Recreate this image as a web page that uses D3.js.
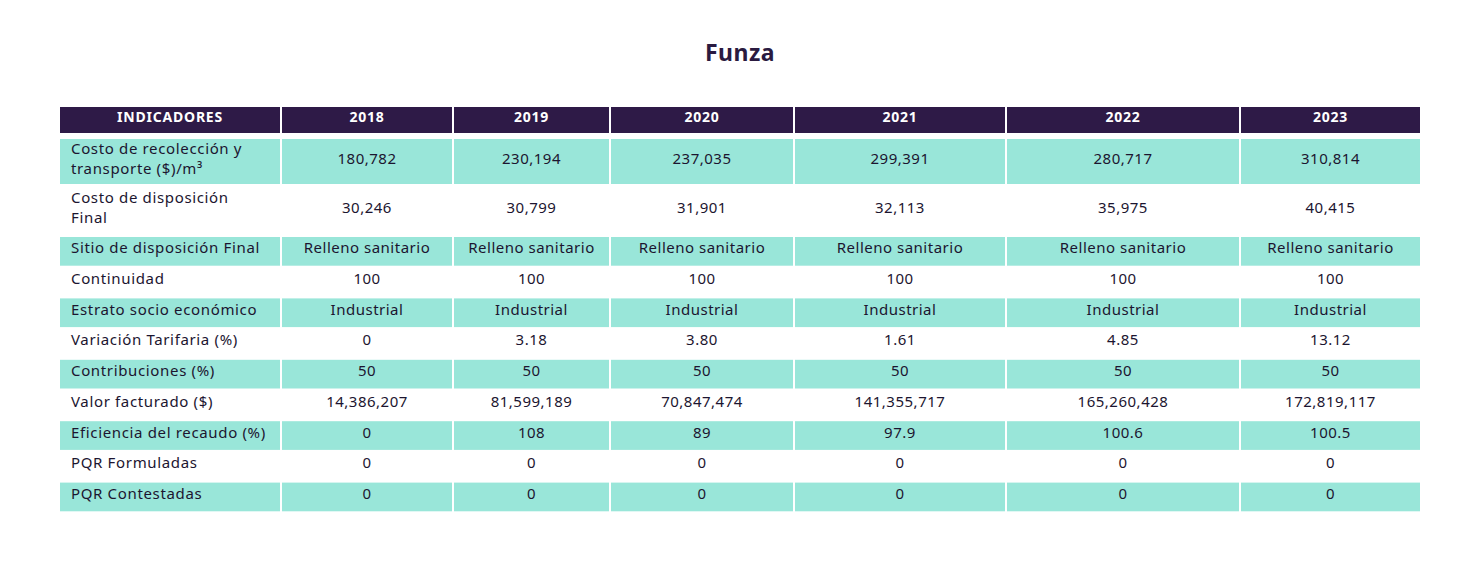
<!DOCTYPE html>
<html>
<head>
<meta charset="utf-8">
<script src="https://cdn.jsdelivr.net/npm/d3@7"></script>
<style>
  body { margin: 0; background: #fff; }
  svg text { font-family: "Noto Sans", sans-serif; }
</style>
</head>
<body>
<svg id="chart"></svg>
<script>
// Table content
const title = "Funza";
const years = ["2018", "2019", "2020", "2021", "2022", "2023"];
const indicators = [
  ["Costo de recolección y", "transporte ($)/m³"],
  ["Costo de disposición", "Final"],
  ["Sitio de disposición Final"],
  ["Continuidad"],
  ["Estrato socio económico"],
  ["Variación Tarifaria (%)"],
  ["Contribuciones (%)"],
  ["Valor facturado ($)"],
  ["Eficiencia del recaudo (%)"],
  ["PQR Formuladas"],
  ["PQR Contestadas"]
];
const costoRecoleccion = ["180,782", "230,194", "237,035", "299,391", "280,717", "310,814"];
const costoDisposicion = ["30,246", "30,799", "31,901", "32,113", "35,975", "40,415"];
const sitio = ["Relleno sanitario", "Relleno sanitario", "Relleno sanitario", "Relleno sanitario", "Relleno sanitario", "Relleno sanitario"];
const continuidad = ["100", "100", "100", "100", "100", "100"];
const estrato = ["Industrial", "Industrial", "Industrial", "Industrial", "Industrial", "Industrial"];
const variacion = ["0", "3.18", "3.80", "1.61", "4.85", "13.12"];
const contribuciones = ["50", "50", "50", "50", "50", "50"];
const valorFacturado = ["14,386,207", "81,599,189", "70,847,474", "141,355,717", "165,260,428", "172,819,117"];
const eficiencia = ["0", "108", "89", "97.9", "100.6", "100.5"];
const pqrFormuladas = ["0", "0", "0", "0", "0", "0"];
const pqrContestadas = ["0", "0", "0", "0", "0", "0"];

const rows = [costoRecoleccion, costoDisposicion, sitio, continuidad, estrato, variacion,
  contribuciones, valorFacturado, eficiencia, pqrFormuladas, pqrContestadas];

// Layout
const W = 1467, H = 582;
const colWidths = [222, 172, 157, 184, 212, 234, 181];
const rowHeights = [47, 51, 30.7, 30.7, 30.7, 30.7, 30.7, 30.7, 30.7, 30.7, 30.7];
const tableLeft = 60, headerTop = 107, headerH = 26, bodyTop = 139, gap = 2;
const headColor = "#2e1a47", teal = "#99e6d9", textColor = "#1c1530";

const colKeys = ["INDICADORES"].concat(years);
const colX = d3.scaleOrdinal().domain(colKeys)
  .range(d3.cumsum([0].concat(colWidths.slice(0, -1))).map(v => tableLeft + v));
const colW = d3.scaleOrdinal().domain(colKeys).range(colWidths);
const rowIdx = d3.range(rows.length);
const rowY = d3.scaleOrdinal().domain(rowIdx)
  .range(d3.cumsum([0].concat(rowHeights.slice(0, -1))).map(v => bodyTop + v));
const rowH = d3.scaleOrdinal().domain(rowIdx).range(rowHeights);

const svg = d3.select("#chart").attr("width", W).attr("height", H);

svg.append("text")
  .attr("x", 740).attr("y", 61)
  .attr("text-anchor", "middle")
  .attr("font-size", 23).attr("font-weight", 700)
  .attr("fill", "#2a1a40")
  .attr("letter-spacing", 0.5)
  .text(title);

// Header
const head = svg.append("g");
head.selectAll("rect").data(colKeys).join("rect")
  .attr("x", d => colX(d)).attr("y", headerTop)
  .attr("width", d => colW(d) - gap).attr("height", headerH)
  .attr("fill", headColor);
head.selectAll("text").data(colKeys).join("text")
  .attr("x", d => colX(d) + (colW(d) - gap) / 2)
  .attr("y", headerTop + headerH / 2 + 2)
  .attr("text-anchor", "middle")
  .attr("font-size", 14).attr("font-weight", 700)
  .attr("letter-spacing", 0.8)
  .attr("fill", "#fff")
  .text(d => d);

// Body rows
const body = svg.append("g");
const rowG = body.selectAll("g").data(rowIdx).join("g");

rowG.selectAll("rect").data(i => colKeys.map(k => ({ i, k }))).join("rect")
  .attr("x", d => colX(d.k)).attr("y", d => rowY(d.i))
  .attr("width", d => colW(d.k) - gap).attr("height", d => rowH(d.i) - gap)
  .attr("fill", d => d.i % 2 === 0 ? teal : "#fff");

// Indicator labels
rowG.append("text")
  .attr("x", tableLeft + 11)
  .attr("font-size", 15).attr("fill", textColor)
  .attr("letter-spacing", 0.65)
  .each(function(i) {
    const lines = indicators[i];
    const cy = rowY(i) + (rowH(i) - gap) / 2;
    const lh = 20;
    d3.select(this).selectAll("tspan").data(lines).join("tspan")
      .attr("x", tableLeft + 11)
      .attr("y", (d, j) => cy + 2 + (j - (lines.length - 1) / 2) * lh)
      .text(d => d);
  });

// Values
rowG.selectAll("text.val").data(i => rows[i].map((v, j) => ({ i, k: years[j], v }))).join("text")
  .attr("class", "val")
  .attr("x", d => colX(d.k) + (colW(d.k) - gap) / 2)
  .attr("y", d => rowY(d.i) + (rowH(d.i) - gap) / 2 + 2)
  .attr("text-anchor", "middle")
  .attr("font-size", 15).attr("fill", textColor)
  .attr("letter-spacing", 0.5)
  .text(d => d.v);
</script>
</body>
</html>
